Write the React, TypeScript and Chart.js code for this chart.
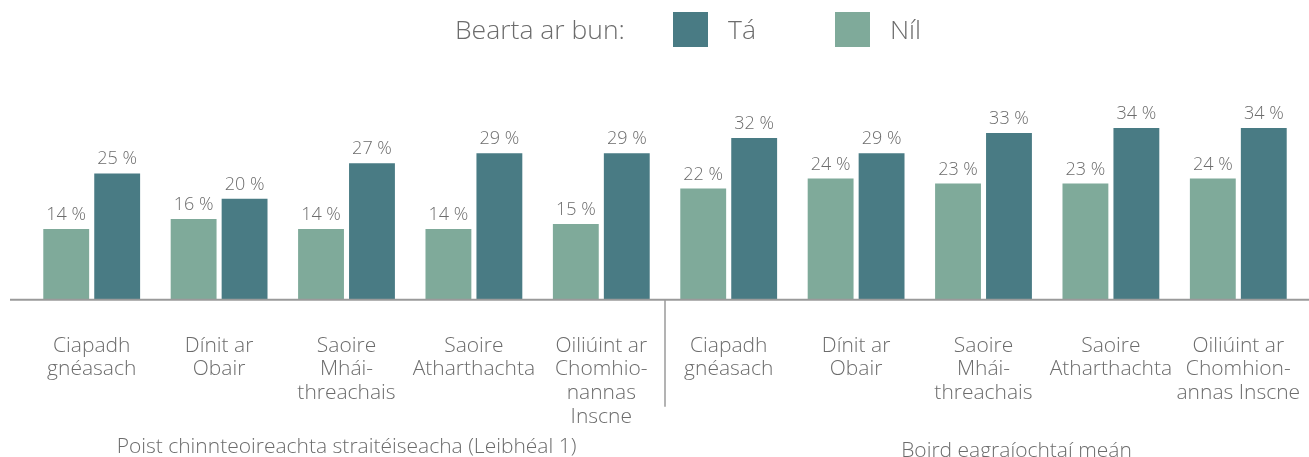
import React, { useEffect, useRef } from "react";
import { Chart, registerables } from "chart.js";

Chart.register(...registerables);

const categories: string[][] = [
  ["Ciapadh", "gnéasach"],
  ["Dínit ar", "Obair"],
  ["Saoire", "Mhái-", "threachais"],
  ["Saoire", "Atharthachta"],
  ["Oiliúint ar", "Chomhio-", "nannas", "Inscne"],
  ["Ciapadh", "gnéasach"],
  ["Dínit ar", "Obair"],
  ["Saoire", "Mhái-", "threachais"],
  ["Saoire", "Atharthachta"],
  ["Oiliúint ar", "Chomhion-", "annas Inscne"],
];
const nilValues = [14, 16, 14, 14, 15, 22, 24, 23, 23, 24];
const taValues = [25, 20, 27, 29, 29, 32, 29, 33, 34, 34];
const groupLabels = [
  "Poist chinnteoireachta straitéiseacha (Leibhéal 1)",
  "Boird eagraíochtaí meán",
];
const legendTitle = "Bearta ar bun:";
const seriesNames = ["Tá", "Níl"];

const TA_COLOR = "#497b84";
const NIL_COLOR = "#7faa9a";
const TEXT_COLOR = "#6c6c6c";
const FONT_FAMILY = '"Open Sans", "Noto Sans", sans-serif';
const font = (size: number) => `300 ${size}px ${FONT_FAMILY}`;

const decorPlugin = {
  id: "decor",
  afterDatasetsDraw(chart: any) {
    const ctx = chart.ctx as CanvasRenderingContext2D;
    const xs = chart.scales.x;
    const ys = chart.scales.y;
    const y0 = ys.getPixelForValue(0);
    ctx.save();

    // value labels
    ctx.font = font(18);
    ctx.fillStyle = TEXT_COLOR;
    ctx.textAlign = "center";
    ctx.textBaseline = "alphabetic";
    chart.data.datasets.forEach((ds: any, di: number) => {
      const meta = chart.getDatasetMeta(di);
      meta.data.forEach((bar: any, i: number) => {
        ctx.fillText(`${ds.data[i]} %`, bar.x, bar.y - 9);
      });
    });

    // axis line
    ctx.strokeStyle = "#9a9a9a";
    ctx.lineWidth = 2;
    ctx.beginPath();
    ctx.moveTo(10, y0);
    ctx.lineTo(chart.width, y0);
    ctx.stroke();

    // separator
    const sepX = (xs.getPixelForValue(4) + xs.getPixelForValue(5)) / 2;
    ctx.lineWidth = 1.5;
    ctx.beginPath();
    ctx.moveTo(sepX, y0);
    ctx.lineTo(sepX, y0 + 107);
    ctx.stroke();

    // category labels
    ctx.font = font(21);
    ctx.fillStyle = TEXT_COLOR;
    categories.forEach((lines, i) => {
      const cx = xs.getPixelForValue(i);
      lines.forEach((ln, li) => {
        ctx.fillText(ln, cx, y0 + 52 + li * 23.7);
      });
    });

    // group labels
    const left = chart.chartArea.left;
    const right = chart.chartArea.right;
    ctx.font = font(21);
    ctx.fillText(groupLabels[0], (left + sepX) / 2, y0 + 153);
    ctx.fillText(groupLabels[1], (sepX + right) / 2 + 33, y0 + 157);

    // legend
    ctx.font = font(26.5);
    ctx.textAlign = "left";
    ctx.textBaseline = "middle";
    ctx.fillText(legendTitle, 455, 31);
    ctx.fillStyle = TA_COLOR;
    ctx.fillRect(673, 12, 35, 35);
    ctx.fillStyle = TEXT_COLOR;
    ctx.fillText(seriesNames[0], 728, 31);
    ctx.fillStyle = NIL_COLOR;
    ctx.fillRect(835, 12, 35, 35);
    ctx.fillStyle = TEXT_COLOR;
    ctx.fillText(seriesNames[1], 890, 31);

    ctx.restore();
  },
};

export default function App() {
  const ref = useRef<HTMLCanvasElement>(null);
  useEffect(() => {
    if (!ref.current) return;
    const chart = new Chart(ref.current, {
      type: "bar",
      data: {
        labels: categories.map((c) => c.join(" ")),
        datasets: [
          { label: seriesNames[1], data: nilValues, backgroundColor: NIL_COLOR },
          { label: seriesNames[0], data: taValues, backgroundColor: TA_COLOR },
        ],
      },
      options: {
        responsive: false,
        animation: false,
        layout: { padding: { left: 28, right: 7, top: 97.7, bottom: 157.3 } },
        plugins: { legend: { display: false }, tooltip: { enabled: false } },
        scales: {
          x: { display: false },
          y: { display: false, min: 0, max: 40 },
        },
        datasets: { bar: { categoryPercentage: 0.8, barPercentage: 0.9 } },
      },
      plugins: [decorPlugin],
    });
    return () => chart.destroy();
  }, []);
  return (
    <div style={{ position: "absolute", left: 0, top: 0, width: 1309, height: 457, background: "#fff" }}>
      <canvas ref={ref} width={1309} height={457} />
    </div>
  );
}
